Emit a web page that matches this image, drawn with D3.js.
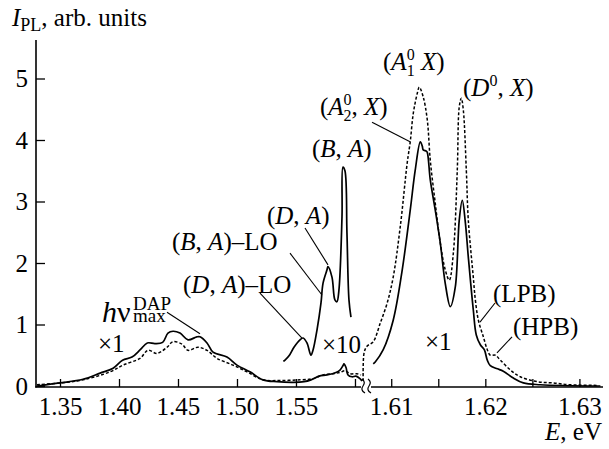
<!DOCTYPE html>
<html><head><meta charset="utf-8">
<script src="https://cdn.jsdelivr.net/npm/d3@7"></script>
<style>
body{margin:0;background:#fff;}
</style></head>
<body><svg id="c" width="609" height="449"></svg>
<script>
// ---------- data (E in eV, I in arb. units) ----------
// ×1 spectra, low-energy part (left of axis break)
const solidLowE = [1.3305,1.35,1.3695,1.384,1.395,1.403,1.411,1.418,1.424,1.4305,1.437,1.4415,1.4458,1.4517,1.4585,1.466,1.4686,1.4746,1.4797,1.4915,1.50,1.511,1.522,1.534,1.5475,1.5568,1.5627,1.5695,1.5763,1.5839,1.5873,1.5898,1.5907,1.5924,1.5941,1.5975,1.6008,1.6042,1.6060];
const solidLowI = [0.0,0.05,0.11,0.21,0.29,0.42,0.47,0.59,0.70,0.69,0.71,0.86,0.89,0.86,0.75,0.80,0.80,0.70,0.55,0.47,0.34,0.23,0.10,0.07,0.06,0.07,0.10,0.16,0.18,0.22,0.26,0.33,0.36,0.30,0.18,0.15,0.16,0.12,0.08];
const dashLowE = [1.3305,1.35,1.3695,1.3924,1.4034,1.4178,1.4246,1.4322,1.4407,1.4458,1.4534,1.4585,1.4669,1.4746,1.483,1.4966,1.5085,1.522,1.5364,1.5534,1.5644,1.5729,1.5814,1.5873,1.5915,1.5958,1.6017,1.6051];
const dashLowI = [0.02,0.05,0.10,0.23,0.34,0.45,0.58,0.53,0.63,0.72,0.68,0.58,0.63,0.58,0.45,0.34,0.23,0.10,0.09,0.10,0.12,0.18,0.20,0.22,0.25,0.20,0.20,0.18];
// ×10 solid spectrum (D,A)/(B,A) region
const solidX10E = [1.5393,1.5407,1.5441,1.5483,1.5534,1.556,1.5593,1.5627,1.5644,1.5678,1.5712,1.5729,1.5763,1.5771,1.5805,1.583,1.5847,1.5864,1.589,1.5898,1.5915,1.5932,1.5949,1.5966];
const solidX10I = [0.40,0.42,0.49,0.63,0.75,0.78,0.70,0.50,0.58,0.91,1.35,1.67,1.89,1.94,1.77,1.40,1.37,1.56,2.75,3.56,3.50,2.49,1.40,1.12];
// ×1 spectra, excitonic region (right of axis break)
const solidHighE = [1.60809,1.6083,1.60915,1.61021,1.61117,1.61202,1.61255,1.61309,1.6133,1.6134,1.61372,1.61383,1.61415,1.61468,1.61521,1.61574,1.61628,1.61681,1.61723,1.61755,1.61787,1.61819,1.61872,1.61904,1.61947,1.61989,1.62021,1.62053,1.62128,1.62191,1.62298,1.62404,1.62585,1.63223];
const solidHighI = [0.36,0.39,0.59,1.07,1.89,2.86,3.51,3.97,3.90,3.84,3.82,3.80,3.35,2.86,2.33,1.67,1.29,1.61,2.70,3.02,2.67,2.10,1.24,0.83,0.67,0.59,0.42,0.33,0.28,0.24,0.13,0.05,0.02,0.0];
const dashHighE = [1.60702,1.60713,1.60745,1.60809,1.60883,1.60957,1.61021,1.61096,1.6117,1.61202,1.61234,1.61277,1.61298,1.6134,1.61383,1.61415,1.61468,1.61521,1.61574,1.61617,1.6166,1.61702,1.61723,1.61745,1.61766,1.61798,1.61819,1.61872,1.61894,1.61926,1.61979,1.62021,1.62053,1.62106,1.6216,1.62266,1.62372,1.62553,1.62723,1.62904,1.63191];
const dashHighI = [0.08,0.55,0.65,0.72,1.02,1.35,1.77,2.59,3.63,3.97,4.43,4.76,4.86,4.70,4.33,3.67,2.97,2.33,1.89,1.72,2.16,3.51,4.54,4.68,4.49,3.51,2.70,1.77,1.40,1.07,0.80,0.59,0.50,0.50,0.42,0.26,0.15,0.07,0.05,0.02,0.01];
// ticks
const leftTicks = [1.35,1.40,1.45,1.50,1.55,1.60];
const leftTickLabels = ["1.35","1.40","1.45","1.50","1.55",""];
const rightTicks = [1.61,1.615,1.62,1.625,1.63];
const rightTickLabels = ["1.61","","1.62","","1.63"];
const yTicks = [0,1,2,3,4,5];

// ---------- scales ----------
const FONT = "Liberation Serif";
const svg = d3.select("#c").attr("font-family",FONT);
const xL = d3.scaleLinear().domain([1.3305,1.6068]).range([37,363]);
const xR = d3.scaleLinear().domain([1.6070,1.6324]).range([363,602]);
const y = d3.scaleLinear().domain([0,5]).range([386,78.5]);
const X = e => e < 1.6069 ? xL(e) : xR(e);
const FS = 25;

// ---------- axes ----------
const axL = svg.append("g").attr("transform","translate(0,387)")
  .call(d3.axisBottom(xL).tickValues(leftTicks).tickSize(-8).tickPadding(10)
    .tickFormat((d,i)=>leftTickLabels[i]));
const axR = svg.append("g").attr("transform","translate(0,387)")
  .call(d3.axisBottom(xR).tickValues(rightTicks).tickSize(-8).tickPadding(10)
    .tickFormat((d,i)=>rightTickLabels[i]));
const axY = svg.append("g").attr("transform","translate(36,0)")
  .call(d3.axisLeft(y).tickValues(yTicks).tickSize(-9).tickPadding(8).tickFormat(d3.format("d")));
[axL,axR,axY].forEach(a=>{
  a.attr("font-family",FONT).attr("font-size",FS);
  a.select(".domain").remove();
  a.selectAll("line").attr("stroke","#000").attr("stroke-width",1.3);
  a.selectAll("text").attr("fill","#000");
});
// axis lines with break
svg.append("line").attr("x1",36).attr("x2",36).attr("y1",40).attr("y2",387.5).attr("stroke","#000").attr("stroke-width",1.6);
svg.append("line").attr("x1",35.2).attr("x2",361).attr("y1",387).attr("y2",387).attr("stroke","#000").attr("stroke-width",1.6);
svg.append("line").attr("x1",371).attr("x2",603).attr("y1",387).attr("y2",387).attr("stroke","#000").attr("stroke-width",1.6);
[362,368].forEach(bx=>{
  svg.append("path").attr("d",`M${bx},379 q4,3 1,7 q-3,4 2,7`).attr("fill","none").attr("stroke","#000").attr("stroke-width",1.2);
});

// ---------- curves ----------
const lineL = d3.line().x(d=>xL(d[0])).y(d=>y(d[1])).curve(d3.curveCatmullRom.alpha(0.5));
const lineR = d3.line().x(d=>xR(d[0])).y(d=>y(d[1])).curve(d3.curveCatmullRom.alpha(0.5));
const zip = (a,b)=>a.map((v,i)=>[v,b[i]]);
function draw(gen, data, dashed){
  svg.append("path").attr("d",gen(data)).attr("fill","none").attr("stroke","#000")
    .attr("stroke-width",dashed?1.5:1.7).attr("stroke-dasharray",dashed?"3,2":null)
    .attr("stroke-linejoin","round");
}
draw(lineL, zip(dashLowE,dashLowI), true);
draw(lineL, zip(solidLowE,solidLowI), false);
draw(lineL, zip(solidX10E,solidX10I), false);
draw(lineR, zip(dashHighE,dashHighI), true);
draw(lineR, zip(solidHighE,solidHighI), false);

// ---------- annotations ----------
function rich(e, v, parts, size){
  const t = svg.append("text").attr("x",X(e)).attr("y",y(v)).attr("font-size",size||FS).attr("fill","#000");
  parts.forEach(p=>{
    const ts = t.append("tspan").text(p.t);
    if(p.i) ts.attr("font-style","italic");
    if(p.dy!==undefined) ts.attr("dy",p.dy);
    if(p.dx!==undefined) ts.attr("dx",p.dx);
    if(p.fs) ts.attr("font-size",p.fs);
  });
  return t;
}
function leader(e1,v1,e2,v2){
  svg.append("line").attr("x1",X(e1)).attr("y1",y(v1)).attr("x2",X(e2)).attr("y2",y(v2))
    .attr("stroke","#000").attr("stroke-width",1.1);
}
rich(1.60913,5.14,[{t:"("},{t:"A",i:1},{t:"0",fs:16,dy:-10},{t:"1",fs:16,dx:-8,dy:16},{t:" ",dy:-6},{t:"X",i:1},{t:")"}]);
rich(1.61763,4.72,[{t:"("},{t:"D",i:1},{t:"0",fs:16,dy:-10},{t:", ",dy:10},{t:"X",i:1},{t:")"}]);
rich(1.57034,4.41,[{t:"("},{t:"A",i:1},{t:"0",fs:16,dy:-10},{t:"2",fs:16,dx:-8,dy:16},{t:", ",dy:-6},{t:"X",i:1},{t:")"}]);
rich(1.56356,3.72,[{t:"("},{t:"B",i:1},{t:", "},{t:"A",i:1},{t:")"}]);
rich(1.52542,2.63,[{t:"("},{t:"D",i:1},{t:", "},{t:"A",i:1},{t:")"}]);
rich(1.44492,2.21,[{t:"("},{t:"B",i:1},{t:", "},{t:"A",i:1},{t:")–LO"}]);
rich(1.45424,1.51,[{t:"("},{t:"D",i:1},{t:", "},{t:"A",i:1},{t:")–LO"}]);
rich(1.38559,1.04,[{t:"h",i:1},{t:"ν"}],30);
rich(1.41186,1.23,[{t:"DAP"}],19);
rich(1.41186,1.04,[{t:"max"}],19);
rich(1.3822,0.55,[{t:"×1"}]);
rich(1.57203,0.54,[{t:"×10"}]);
rich(1.61359,0.585,[{t:"×1"}]);
rich(1.62082,1.37,[{t:"(LPB)"}]);
rich(1.62294,0.83,[{t:"(HPB)"}]);
leader(1.60796,4.29,1.61200,3.97);
leader(1.55763,2.57,1.57712,1.97);
leader(1.54492,2.16,1.57203,1.48);
leader(1.51949,1.51,1.55508,0.78);
leader(1.44068,1.20,1.46864,0.85);
leader(1.62103,1.35,1.61943,1.04);
leader(1.62284,0.80,1.62124,0.54);

// axis titles
const yt = svg.append("text").attr("x",12).attr("y",26).attr("font-size",FS);
yt.append("tspan").attr("font-style","italic").text("I");
yt.append("tspan").attr("font-size",18).attr("dy",5).text("PL");
yt.append("tspan").attr("dy",-5).text(", arb. units");
const xt = svg.append("text").attr("x",602).attr("y",440).attr("text-anchor","end").attr("font-size",FS);
xt.append("tspan").attr("font-style","italic").text("E");
xt.append("tspan").text(", eV");
</script></body></html>
